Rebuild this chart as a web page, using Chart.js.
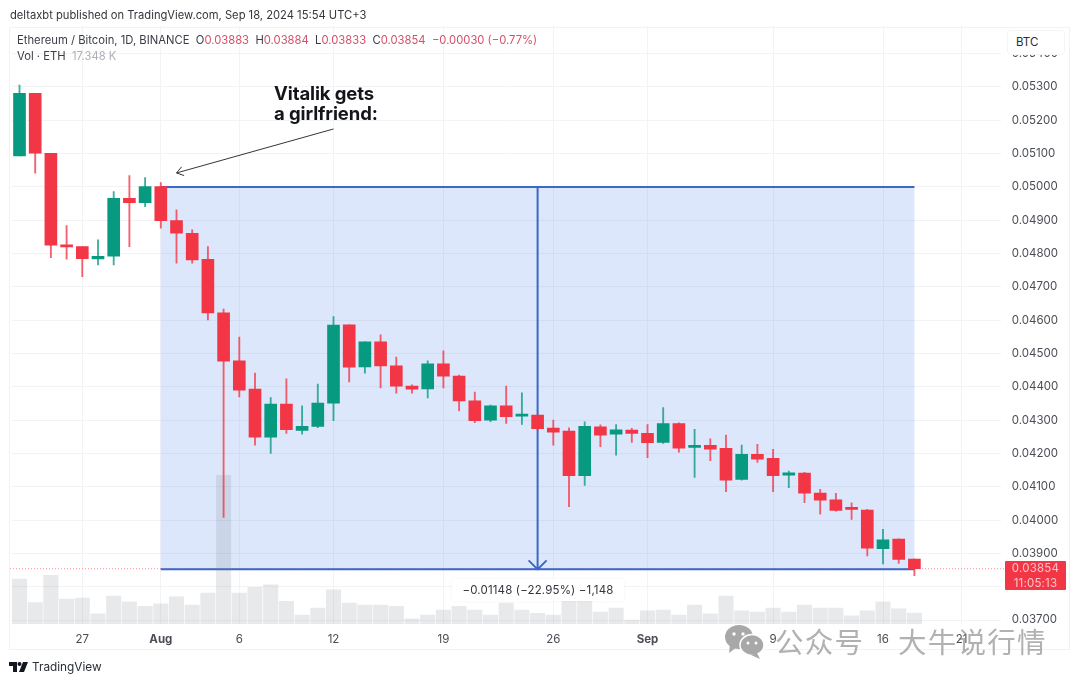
<!DOCTYPE html>
<html>
<head>
<meta charset="utf-8">
<title>ETH/BTC</title>
<script src="https://cdn.jsdelivr.net/npm/chart.js@4"></script>
<style>
  html, body { margin: 0; padding: 0; background: #fff; }
  body { width: 1080px; height: 684px; position: relative; overflow: hidden; font-family: Inter, sans-serif; }
  canvas { position: absolute; left: 0; top: 0; }
  .t { position: absolute; white-space: nowrap; color: #3a3d45; }
  .frame { position: absolute; left: 9px; top: 27px; width: 1061px; height: 623px; border: 1px solid #f1f2f4; box-sizing: border-box; }
  .red { color: #d4506a; }
  #callout { left: 274px; top: 84px; font-size: 18.5px; font-weight: 700; line-height: 19.5px; color: #14151a; letter-spacing: -0.1px; }
  #measure { left: 452px; top: 579px; width: 172px; height: 22px; line-height: 22px; text-align: center; background: #fff; font-size: 11.5px; color: #33363d; letter-spacing: 0.15px; box-shadow: 0 0 3px rgba(0,0,0,.05); }
  #btc { left: 1007px; top: 30px; width: 58px; height: 25px; line-height: 23px; background: #fff; border: 1px solid #f4f5f6; border-radius: 4px; box-sizing: border-box; padding-left: 8px; font-size: 11.5px; color: #2a2e39; }
  #tag { left: 1005px; top: 561px; width: 61px; height: 29px; background: #f23645; border-radius: 1px; color: #fbc4ca; font-size: 11.5px; line-height: 14.5px; text-align: center; letter-spacing: 0.2px; }
  #wm { left: 775px; top: 620px; font-family: "Noto Sans CJK SC", sans-serif; font-size: 28.5px; font-weight: 400; color: rgba(120,120,120,.58); letter-spacing: 1.2px; }
  #wm span { margin-left: 34px; }
</style>
</head>
<body>
<canvas id="chart" width="1080" height="684"></canvas>
<div class="frame"></div>

<div class="t" style="left:10px;top:8px;font-size:11.2px;color:#33363d">deltaxbt published on TradingView.com, Sep 18, 2024 15:54 UTC+3</div>
<div class="t" style="left:17px;top:33px;font-size:11.25px">Ethereum / Bitcoin, 1D, BINANCE &nbsp;O<span class="red">0.03883</span> &nbsp;H<span class="red">0.03884</span> &nbsp;L<span class="red">0.03833</span> &nbsp;C<span class="red">0.03854</span> &nbsp;<span class="red">−0.00030 (−0.77%)</span></div>
<div class="t" style="left:17px;top:49px;font-size:11.25px">Vol · ETH &nbsp;<span style="color:#adb0b6">17.348 K</span></div>
<div class="t" id="callout">Vitalik gets<br>a girlfriend:</div>
<div class="t" id="measure">−0.01148 (−22.95%) −1,148</div>
<div class="t" id="btc">BTC</div>
<div class="t" id="tag">0.03854<br>11:05:13</div>

<svg style="position:absolute;left:724px;top:624px" width="42" height="36" viewBox="0 0 42 36">
  <g fill="#a8a8a8">
    <ellipse cx="15" cy="13" rx="14" ry="12"/><path d="M6 20 L5 29 L13 23 Z"/>
    <ellipse cx="28" cy="21" rx="12" ry="10.5" stroke="#fff" stroke-width="1.5"/><path d="M33 29 L36 35 L27 31 Z"/>
  </g>
  <g fill="#fff"><circle cx="10" cy="10" r="1.7"/><circle cx="19" cy="10" r="1.7"/><circle cx="24" cy="19" r="1.5"/><circle cx="32" cy="19" r="1.5"/></g>
</svg>
<div class="t" id="wm">公众号<span>大牛说行情</span></div>

<svg style="position:absolute;left:9px;top:662px" width="19" height="11" viewBox="0 0 19 11">
  <path fill="#131722" d="M0 0h8v10H4V4H0z"/><circle cx="10.5" cy="2" r="2" fill="#131722"/><path fill="#131722" d="M14 0h5l-4 10h-5z"/>
</svg>
<div class="t" style="left:32px;top:660px;font-size:11.8px;color:#2a2e39">TradingView</div>

<script>
// одна свеча на день, Jul 23 .. Sep 18, дальше пустые дни до правого края
const dates = ['Jul 23','Jul 24','Jul 25','Jul 26','Jul 27','Jul 28','Jul 29','Jul 30','Jul 31','Aug 1','Aug 2','Aug 3','Aug 4','Aug 5','Aug 6','Aug 7','Aug 8','Aug 9','Aug 10','Aug 11','Aug 12','Aug 13','Aug 14','Aug 15','Aug 16','Aug 17','Aug 18','Aug 19','Aug 20','Aug 21','Aug 22','Aug 23','Aug 24','Aug 25','Aug 26','Aug 27','Aug 28','Aug 29','Aug 30','Aug 31','Sep 1','Sep 2','Sep 3','Sep 4','Sep 5','Sep 6','Sep 7','Sep 8','Sep 9','Sep 10','Sep 11','Sep 12','Sep 13','Sep 14','Sep 15','Sep 16','Sep 17','Sep 18','Sep 19','Sep 20','Sep 21','Sep 22','Sep 23'];

const opens  = [0.05093,0.05281,0.05101,0.04826,0.04821,0.04784,0.04792,0.04966,0.04953,0.05001,0.04899,0.04861,0.04783,0.04622,0.04478,0.04393,0.04249,0.04348,0.04269,0.04281,0.04351,0.04586,0.04460,0.04535,0.04463,0.04402,0.04394,0.04469,0.04432,0.04358,0.04300,0.04343,0.04312,0.04315,0.04276,0.04267,0.04133,0.04280,0.04258,0.04270,0.04260,0.04233,0.04290,0.04218,0.04224,0.04215,0.04122,0.04197,0.04185,0.04135,0.04141,0.04081,0.04061,0.04034,0.04030,0.03914,0.03943,0.03883];
const highs  = [0.05306,0.05281,0.05101,0.04884,0.04821,0.04841,0.04986,0.05034,0.05028,0.05013,0.04931,0.04871,0.04821,0.04633,0.04549,0.04441,0.04368,0.04424,0.04343,0.04408,0.04611,0.04586,0.04535,0.04556,0.04489,0.04406,0.04478,0.04508,0.04435,0.04384,0.04345,0.04402,0.04382,0.04315,0.04300,0.04277,0.04295,0.04286,0.04287,0.04275,0.04287,0.04338,0.04292,0.04272,0.04244,0.04255,0.04225,0.04227,0.04212,0.04147,0.04143,0.04092,0.04080,0.04052,0.04032,0.03972,0.03944,0.03884];
const lows   = [0.05093,0.05041,0.04788,0.04783,0.04731,0.04766,0.04766,0.04821,0.04941,0.04876,0.04771,0.04771,0.04601,0.04008,0.04370,0.04225,0.04200,0.04260,0.04258,0.04277,0.04298,0.04415,0.04441,0.04397,0.04381,0.04381,0.04367,0.04397,0.04328,0.04292,0.04295,0.04290,0.04287,0.04270,0.04225,0.04040,0.04104,0.04220,0.04195,0.04233,0.04187,0.04230,0.04204,0.04128,0.04178,0.04085,0.04120,0.04173,0.04085,0.04097,0.04052,0.04018,0.04027,0.04002,0.03892,0.03868,0.03870,0.03833];
const closes = [0.05281,0.05101,0.04825,0.04820,0.04785,0.04792,0.04966,0.04953,0.05001,0.04899,0.04861,0.04781,0.04622,0.04477,0.04390,0.04249,0.04348,0.04271,0.04281,0.04351,0.04585,0.04459,0.04535,0.04463,0.04402,0.04393,0.04469,0.04432,0.04358,0.04298,0.04343,0.04310,0.04315,0.04274,0.04264,0.04133,0.04281,0.04255,0.04271,0.04260,0.04232,0.04290,0.04216,0.04224,0.04213,0.04120,0.04197,0.04183,0.04133,0.04142,0.04081,0.04060,0.04029,0.04032,0.03916,0.03941,0.03882,0.03854];
const volumes = [71,34,77,39.5,41,16,44,35,28,32,43,30,49,235,49,58,62,36,14,25,54,33,30,30,28,8,14,22,28,22,14,33,22,17,14,36,36,19,25,6,21,22,14,30,16,44,21,19,25,19,30,25,25,13,21,35,24,17.348];

const priceTicks = [0.037,0.038,0.039,0.040,0.041,0.042,0.043,0.044,0.045,0.046,0.047,0.048,0.049,0.050,0.051,0.052,0.053,0.054];
const dayTickIndex = [4,9,14,20,27,34,40,48,55,60];
const dayTickLabels = ['27','Aug','6','12','19','26','Sep','9','16','21'];

const UP = '#089981', DOWN = '#f23645', BLUE = '#3b68c6';
const lastPrice = 0.03854;
const measureFrom = 0.05, measureTo = 0.03852;
const measureStart = 9, measureEnd = 57, measureMid = 33;
const calloutFrom = [20, 0.05174], calloutTo = [10, 0.05042];

const candleColors = closes.map((c, i) => c >= opens[i] ? UP : DOWN);

// прямоугольник измерения и стрелки, рисуем под свечами
const overlayPlugin = {
    id: 'overlay',
    beforeDatasetsDraw(chart) {
        const { ctx, scales: { x, y } } = chart;
        const yLast = y.getPixelForValue(lastPrice);
        const top = y.getPixelForValue(measureFrom), bottom = y.getPixelForValue(measureTo);
        const left = x.getPixelForValue(measureStart), right = x.getPixelForValue(measureEnd);
        const mid = x.getPixelForValue(measureMid);
        ctx.save();
        ctx.strokeStyle = 'rgba(242,54,69,.55)';
        ctx.setLineDash([1, 2]);
        ctx.beginPath();
        ctx.moveTo(10, yLast);
        ctx.lineTo(1005, yLast);
        ctx.stroke();
        ctx.setLineDash([]);

        ctx.fillStyle = 'rgba(41,105,235,.155)';
        ctx.fillRect(left, top, right - left, bottom - top);
        ctx.strokeStyle = BLUE;
        ctx.lineWidth = 2;
        ctx.beginPath();
        ctx.moveTo(left, top); ctx.lineTo(right, top);
        ctx.moveTo(left, bottom); ctx.lineTo(right, bottom);
        ctx.moveTo(mid, top); ctx.lineTo(mid, bottom);
        ctx.moveTo(mid - 9, bottom - 9); ctx.lineTo(mid, bottom); ctx.lineTo(mid + 9, bottom - 9);
        ctx.stroke();
        ctx.restore();
    },
    afterDatasetsDraw(chart) {
        const { ctx, scales: { x, y } } = chart;
        const x0 = x.getPixelForValue(calloutFrom[0]), y0 = y.getPixelForValue(calloutFrom[1]);
        const x1 = x.getPixelForValue(calloutTo[0]), y1 = y.getPixelForValue(calloutTo[1]);
        const a = Math.atan2(y0 - y1, x0 - x1);
        ctx.save();
        ctx.strokeStyle = '#33353b';
        ctx.lineWidth = 1;
        ctx.beginPath();
        ctx.moveTo(x0, y0); ctx.lineTo(x1, y1);
        ctx.moveTo(x1 + 8 * Math.cos(a - 0.6), y1 + 8 * Math.sin(a - 0.6));
        ctx.lineTo(x1, y1);
        ctx.lineTo(x1 + 8 * Math.cos(a + 0.6), y1 + 8 * Math.sin(a + 0.6));
        ctx.stroke();
        ctx.restore();
    }
};

new Chart(document.getElementById('chart'), {
    type: 'bar',
    plugins: [overlayPlugin],
    data: {
        labels: dates,
        datasets: [
            {
                label: 'Vol',
                data: volumes,
                yAxisID: 'yVol',
                backgroundColor: 'rgba(120,123,134,.17)',
                barThickness: 14.4,
                order: 3
            },
            {
                label: 'wick',
                data: lows.map((l, i) => [l, highs[i]]),
                backgroundColor: candleColors.map(c => c + 'c8'),
                barThickness: 1.2,
                order: 2
            },
            {
                label: 'body',
                data: opens.map((o, i) => [o, closes[i]]),
                backgroundColor: candleColors,
                barThickness: 12,
                minBarLength: 2,
                order: 1
            }
        ]
    },
    options: {
        responsive: false,
        animation: false,
        grouped: false,
        layout: { padding: { left: 11.65, top: 26, right: 0, bottom: 34 } },
        plugins: { legend: { display: false }, tooltip: { enabled: false } },
        scales: {
            x: {
                offset: true,
                grid: { offset: false, color: '#f2f3f5', drawTicks: false },
                border: { display: false },
                afterBuildTicks: axis => { axis.ticks = dayTickIndex.map(v => ({ value: v })); },
                afterFit: axis => { axis.height = 26; },
                ticks: {
                    autoSkip: false,
                    maxRotation: 0,
                    padding: 9,
                    color: '#4a4d55',
                    font: ctx => ({ family: 'Inter', size: 11.5, weight: ['Aug', 'Sep'].includes(ctx.tick && ctx.tick.label) ? '700' : '400' }),
                    callback: val => dayTickLabels[dayTickIndex.indexOf(val)]
                }
            },
            y: {
                position: 'right',
                min: 0.03688,
                max: 0.054831,
                grid: { color: '#f2f3f5', drawTicks: false },
                border: { display: false },
                afterBuildTicks: axis => { axis.ticks = priceTicks.map(v => ({ value: v })); },
                afterFit: axis => { axis.width = 79.25; },
                ticks: {
                    padding: 11,
                    color: '#4a4d55',
                    font: { family: 'Inter', size: 11.5 },
                    callback: val => val.toFixed(5)
                }
            },
            yVol: {
                display: false,
                min: 0,
                max: 945
            }
        }
    }
});
</script>
</body>
</html>
